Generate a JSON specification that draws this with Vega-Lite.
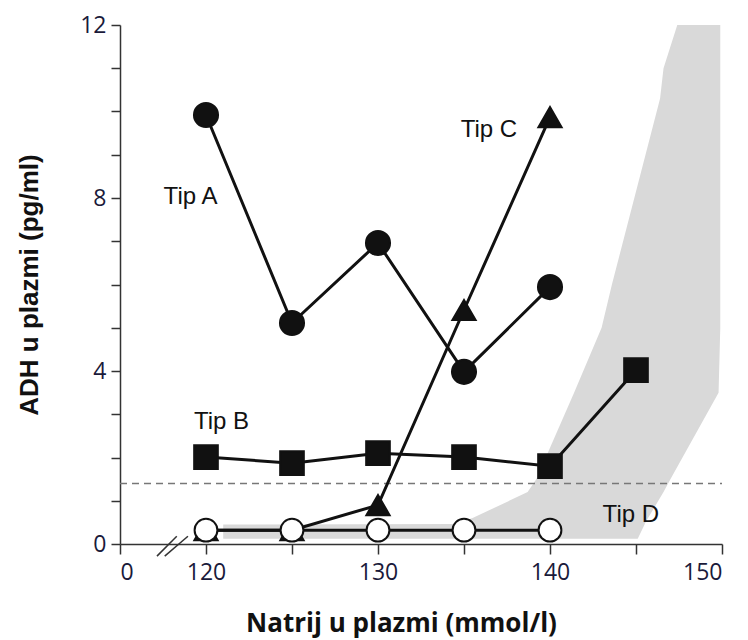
{
  "$schema": "https://vega.github.io/schema/vega-lite/v6.json",
  "autosize": "none",
  "width": 602,
  "height": 519,
  "padding": {"left": 120, "top": 25, "right": 26, "bottom": 96},
  "background": "white",
  "config": {"view": {"stroke": null}},
  "datasets": {
    "band": [
      {"y": 0.12, "xl": 121, "xr": 145.1},
      {"y": 0.45, "xl": 121, "xr": 145.5},
      {"y": 0.46, "xl": 134.5, "xr": 145.5},
      {"y": 0.6, "xl": 135.5, "xr": 145.7},
      {"y": 1.2, "xl": 138.7, "xr": 146.6},
      {"y": 1.5, "xl": 139.2, "xr": 147.0},
      {"y": 3.5, "xl": 141.4, "xr": 149.8},
      {"y": 5, "xl": 143, "xr": 149.9},
      {"y": 6, "xl": 143.6, "xr": 149.9},
      {"y": 10.3, "xl": 146.4, "xr": 149.9},
      {"y": 11, "xl": 146.6, "xr": 149.9},
      {"y": 12, "xl": 147.4, "xr": 149.9}
    ],
    "series": [
      {"tip": "A", "na": 120, "adh": 9.92},
      {"tip": "A", "na": 125, "adh": 5.11},
      {"tip": "A", "na": 130, "adh": 6.96},
      {"tip": "A", "na": 135, "adh": 3.98},
      {"tip": "A", "na": 140, "adh": 5.94},
      {"tip": "B", "na": 120, "adh": 2.01},
      {"tip": "B", "na": 125, "adh": 1.87},
      {"tip": "B", "na": 130, "adh": 2.1},
      {"tip": "B", "na": 135, "adh": 2.01},
      {"tip": "B", "na": 140, "adh": 1.8},
      {"tip": "B", "na": 145, "adh": 4.02},
      {"tip": "C", "na": 120, "adh": 0.32},
      {"tip": "C", "na": 125, "adh": 0.32},
      {"tip": "C", "na": 130, "adh": 0.9},
      {"tip": "C", "na": 135, "adh": 5.41},
      {"tip": "C", "na": 140, "adh": 9.87},
      {"tip": "D", "na": 120, "adh": 0.32},
      {"tip": "D", "na": 125, "adh": 0.32},
      {"tip": "D", "na": 130, "adh": 0.32},
      {"tip": "D", "na": 135, "adh": 0.32},
      {"tip": "D", "na": 140, "adh": 0.32}
    ],
    "labels": [
      {"t": "Tip A", "x": 119.1, "y": 8.02},
      {"t": "Tip B", "x": 120.9, "y": 2.82},
      {"t": "Tip C", "x": 136.45, "y": 9.57},
      {"t": "Tip D", "x": 144.7, "y": 0.67}
    ],
    "breaks": [
      {"x": 117.15, "y": -0.28, "x2": 118.3, "y2": 0.18},
      {"x": 117.6, "y": -0.28, "x2": 118.95, "y2": 0.18}
    ],
    "ref": [{"y": 1.4, "x": 115, "x2": 150}]
  },
  "layer": [
    {
      "data": {"name": "band"},
      "mark": {"type": "area", "orient": "horizontal", "color": "#d9d9d9"},
      "encoding": {
        "y": {"field": "y", "type": "quantitative", "scale": {"domain": [0, 12]},
          "axis": {"values": [0,1,2,3,4,5,6,7,8,9,10,11,12],
            "labelExpr": "datum.value % 4 == 0 ? datum.label : ''",
            "grid": false, "domainColor": "#333", "tickColor": "#333", "tickSize": 9, "domainWidth": 1.5, "tickWidth": 1.5,
            "labelFont": "Open Sans", "labelFontSize": 23, "labelColor": "#1a1a3a", "labelPadding": 5,
            "title": "ADH u plazmi (pg/ml)", "titleFont": "Liberation Sans", "titleFontSize": 26, "titleFontWeight": "bold", "titleColor": "#111", "titlePadding": 37}},
        "x": {"field": "xl", "type": "quantitative", "scale": {"domain": [115, 150], "nice": false, "zero": false},
          "axis": {"values": [115,120,125,130,135,140,145,150],
            "labelExpr": "datum.value == 115 ? '0' : (datum.value % 10 == 0 ? datum.label : '')",
            "grid": false, "domainColor": "#333", "tickColor": "#333", "tickSize": 10, "domainWidth": 1.5, "tickWidth": 1.5,
            "labelFont": "Open Sans", "labelFontSize": 23, "labelColor": "#1a1a3a", "labelPadding": 7,
            "title": "Natrij u plazmi (mmol/l)", "titleFont": "Open Sans", "titleFontSize": 26, "titleFontWeight": "bold", "titleColor": "#111", "titlePadding": 26, "titleX": 281, "titleAlign": "center"}},
        "x2": {"field": "xr"}
      }
    },
    {
      "data": {"name": "ref"},
      "mark": {"type": "rule", "color": "#777", "strokeDash": [7, 5], "strokeWidth": 1.5},
      "encoding": {
        "y": {"field": "y", "type": "quantitative"},
        "x": {"field": "x", "type": "quantitative"},
        "x2": {"field": "x2"}
      }
    },
    {
      "data": {"name": "breaks"},
      "mark": {"type": "rule", "color": "#333", "strokeWidth": 1.5},
      "encoding": {
        "x": {"field": "x", "type": "quantitative"},
        "y": {"field": "y", "type": "quantitative"},
        "x2": {"field": "x2"},
        "y2": {"field": "y2"}
      }
    },
    {
      "data": {"name": "series"},
      "mark": {"type": "line", "color": "#111", "strokeWidth": 3},
      "encoding": {
        "x": {"field": "na", "type": "quantitative"},
        "y": {"field": "adh", "type": "quantitative"},
        "detail": {"field": "tip"}
      }
    },
    {
      "data": {"name": "series"},
      "mark": {"type": "point", "filled": true, "stroke": "#111", "strokeWidth": 2, "opacity": 1},
      "encoding": {
        "x": {"field": "na", "type": "quantitative"},
        "y": {"field": "adh", "type": "quantitative"},
        "shape": {"field": "tip", "type": "nominal", "scale": {"domain": ["A","B","C","D"], "range": ["circle","square","triangle-up","circle"]}, "legend": null},
        "fill": {"field": "tip", "type": "nominal", "scale": {"domain": ["A","B","C","D"], "range": ["#111","#111","#111","#ffffff"]}, "legend": null},
        "size": {"field": "tip", "type": "nominal", "scale": {"domain": ["A","B","C","D"], "range": [580, 520, 680, 420]}, "legend": null},
        "order": {"field": "tip"}
      }
    },
    {
      "data": {"name": "labels"},
      "mark": {"type": "text", "font": "Liberation Sans", "fontSize": 24, "color": "#111"},
      "encoding": {
        "x": {"field": "x", "type": "quantitative"},
        "y": {"field": "y", "type": "quantitative"},
        "text": {"field": "t"}
      }
    }
  ]
}
